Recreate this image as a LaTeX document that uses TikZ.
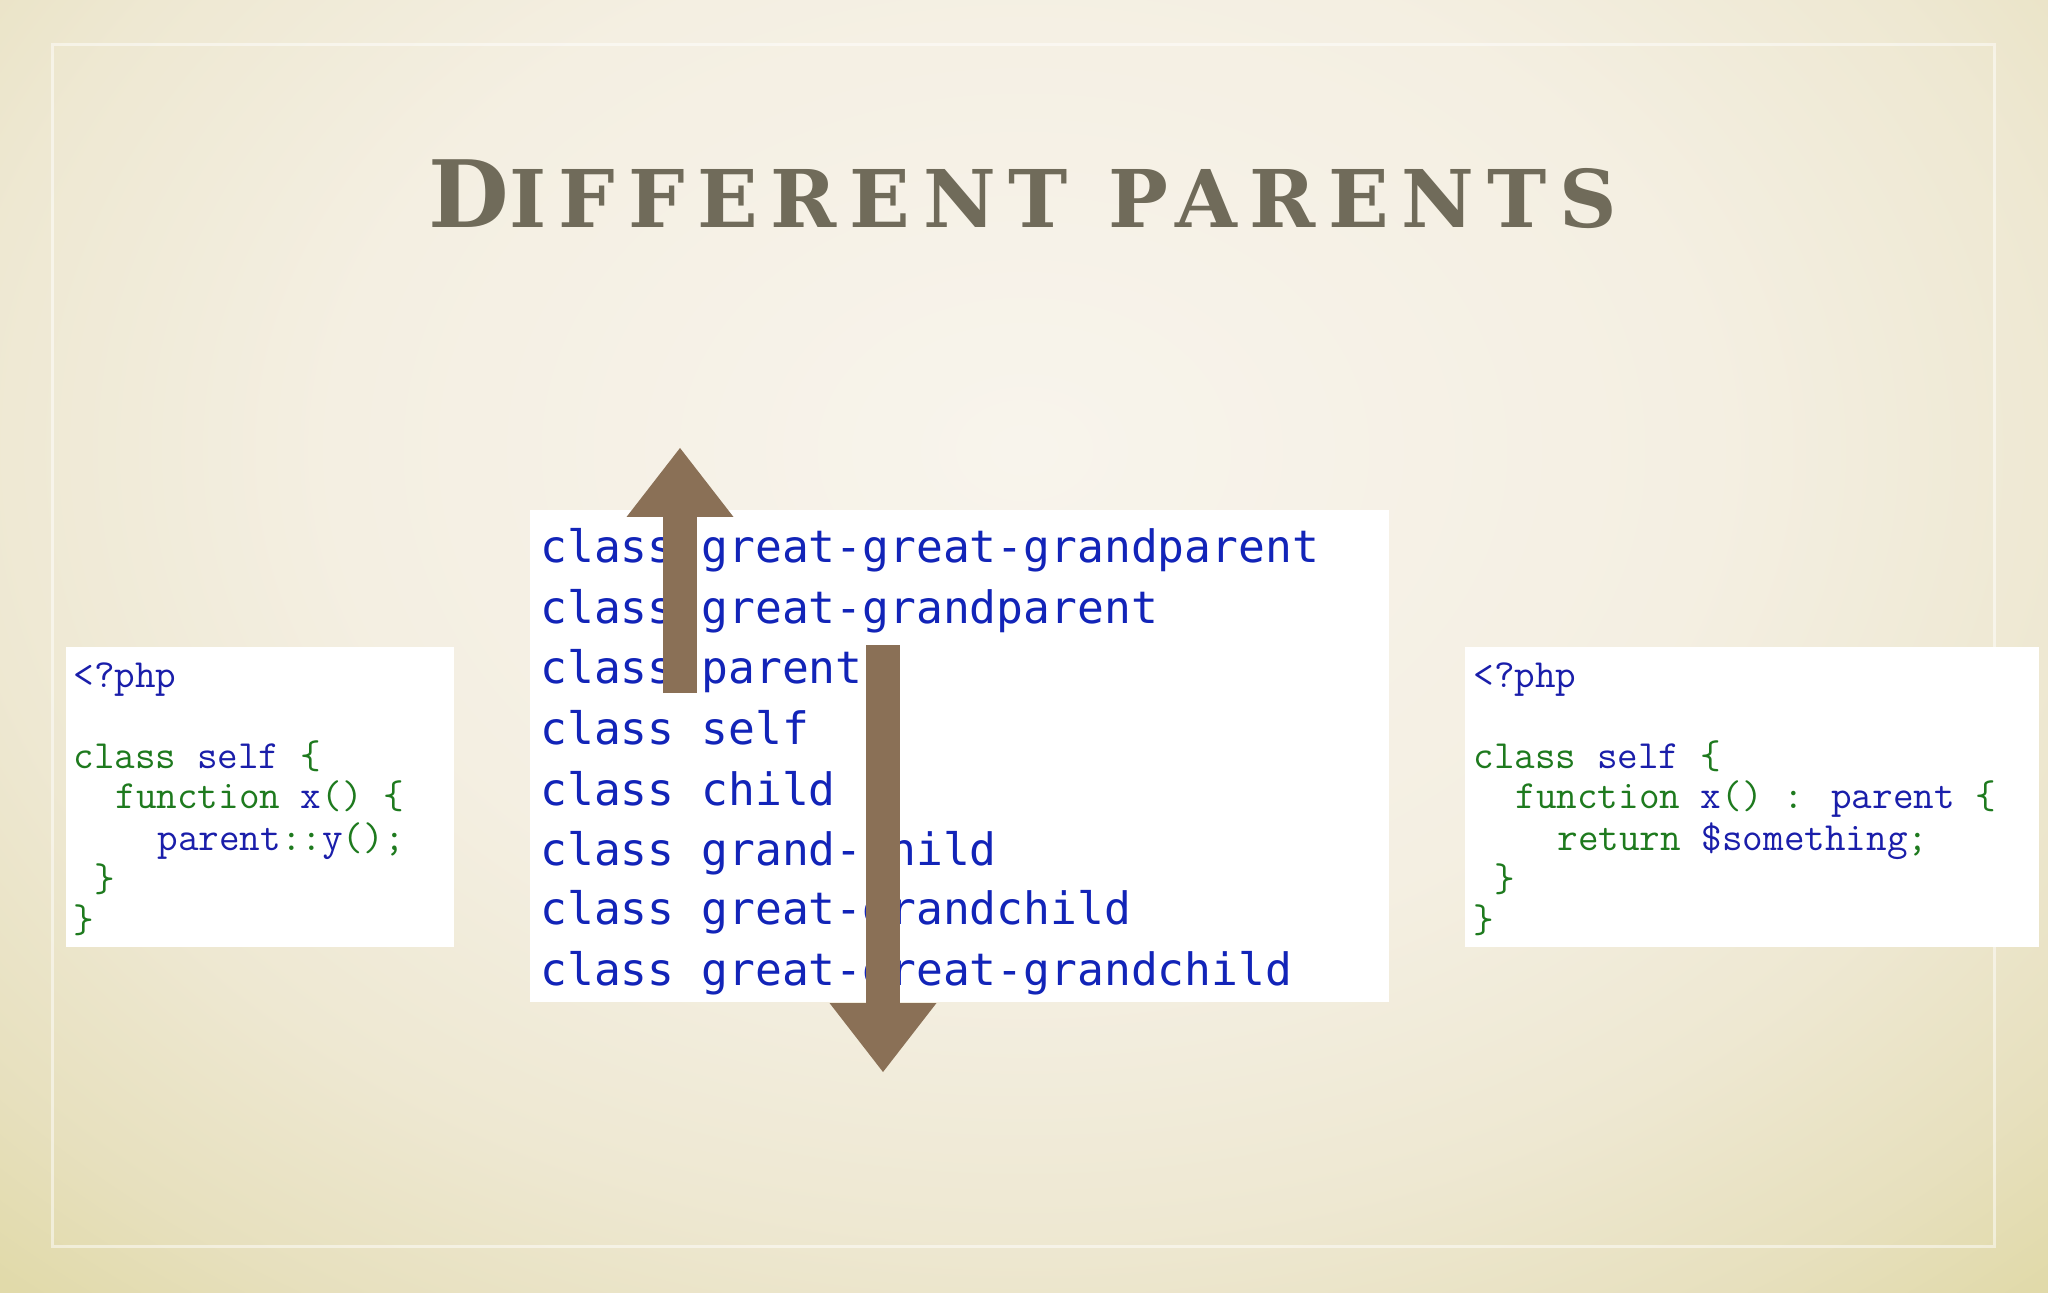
\documentclass[tikz,border=0pt]{standalone}
\usepackage{fontspec}
\usetikzlibrary{arrows.meta}

\newfontfamily\titlefont{DejaVu Serif}[LetterSpace=16]
\newfontfamily\listfont{DejaVu Sans Mono}
\newcommand{\codefont}{\ttfamily\addfontfeatures{FakeBold=2}}

\definecolor{bglight}{RGB}{248,244,236}
\definecolor{bgsoft}{RGB}{244,239,226}
\definecolor{bgmid}{RGB}{238,232,210}
\definecolor{bgwarm}{RGB}{231,224,190}
\definecolor{bgdark}{RGB}{225,218,170}
\definecolor{bgedge}{RGB}{218,210,155}
\definecolor{titlegray}{RGB}{112,107,90}
\definecolor{arrowbrown}{RGB}{138,112,86}
\definecolor{listblue}{RGB}{18,36,184}
\definecolor{codeblue}{RGB}{26,30,170}
\definecolor{codegreen}{RGB}{30,122,30}

\pgfdeclareradialshading{bgglow}{\pgfpoint{0bp}{0bp}}{%
  color(0bp)=(bglight); color(15bp)=(bgsoft); color(23bp)=(bgmid);
  color(29bp)=(bgwarm); color(33bp)=(bgdark); color(43bp)=(bgedge); color(50bp)=(bgedge)}

\newcommand{\kw}[1]{\textcolor{codegreen}{#1}}
\newcommand{\nm}[1]{\textcolor{codeblue}{#1}}

\begin{document}
\begin{tikzpicture}[x=0.5pt, y=-0.5pt,
    codebox/.style={fill=white, anchor=north west, inner sep=0pt},
    codeline/.style={anchor=base west, inner sep=0pt, font=\codefont\fontsize{20}{24}\selectfont},
    listline/.style={anchor=base west, inner sep=0pt, text=listblue, font=\listfont\fontsize{22.3}{26}\selectfont},
    bigarrow/.style={draw=arrowbrown, line width=17pt, -{Triangle[width=53.5pt, length=34.5pt, line width=0pt]}}]

	\useasboundingbox (0,0) rectangle (2048,1293);
	\begin{scope}
		\clip (0,0) rectangle (2048,1293);
		\shade[shading=bgglow] (-126,-400) rectangle (2174,1300);
	\end{scope}
	\draw[white, opacity=0.5, line width=1.5pt] (52,45) rectangle (1994,1246);

	\node (title) [anchor=base west, inner sep=0pt, text=titlegray] at (428,228)
		{\titlefont\bfseries\fontsize{46.5}{50}\selectfont D\fontsize{39.8}{44}\selectfont IFFERENT PARENTS};

	% left box
	\node (leftbox) [codebox, minimum width=194pt, minimum height=150pt] at (66,647) {};
	\node (L1) [codeline] at (73,687) {\nm{<?php}};
	\node (L2) [codeline] at (73,768) {\kw{class} \nm{self} \kw{\{}};
	\node (L3) [codeline] at (115,808) {\kw{function} \nm{x}\kw{()} \kw{\{}};
	\node (L4) [codeline] at (157,850) {\nm{parent}\kw{::}\nm{y}\kw{();}};
	\node (L5) [codeline] at (94,891) {\kw{\}}};
	\node (L6) [codeline] at (73,932) {\kw{\}}};

	% centre list
	\node (listbox) [codebox, minimum width=429.5pt, minimum height=246pt] at (530,510) {};
	\node (C1) [listline] at (540,563) {class great-great-grandparent};
	\node (C2) [listline] at (540,623) {class great-grandparent};
	\node (C3) [listline] at (540,683) {class parent};
	\node (C4) [listline] at (540,744) {class self};
	\node (C5) [listline] at (540,805) {class child};
	\node (C6) [listline] at (540,865) {class grand-child};
	\node (C7) [listline] at (540,924) {class great-grandchild};
	\node (C8) [listline] at (540,985) {class great-great-grandchild};

	% right box
	\node (rightbox) [codebox, minimum width=287pt, minimum height=150pt] at (1465,647) {};
	\node (R1) [codeline] at (1473,687) {\nm{<?php}};
	\node (R2) [codeline] at (1473,768) {\kw{class} \nm{self} \kw{\{}};
	\node (R3) [codeline] at (1515,808) {\kw{function} \nm{x}\kw{()} \kw{:} \nm{parent} \kw{\{}};
	\node (R4) [codeline] at (1557,850) {\kw{return} \nm{\$something}\kw{;}};
	\node (R5) [codeline] at (1494,891) {\kw{\}}};
	\node (R6) [codeline] at (1473,932) {\kw{\}}};

	% arrows
	\coordinate (upfoot) at (680,693);
	\coordinate (uptip) at (680,448);
	\coordinate (downtop) at (883,645);
	\coordinate (downtip) at (883,1072);
	\draw[bigarrow] (upfoot) -- (uptip);
	\draw[bigarrow] (downtop) -- (downtip);

\end{tikzpicture}
\end{document}
